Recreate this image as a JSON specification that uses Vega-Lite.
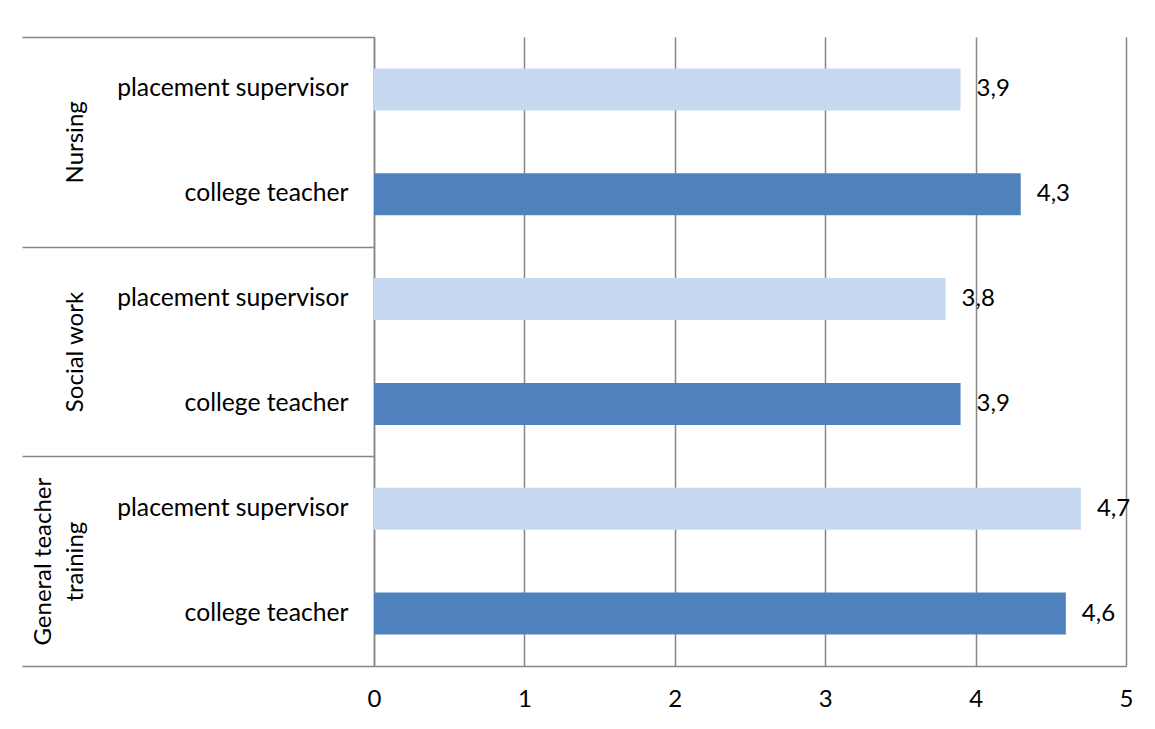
{
  "$schema": "https://vega.github.io/schema/vega-lite/v6.json",
  "width": 752,
  "height": 629,
  "autosize": {"type": "none"},
  "padding": {"left": 374, "top": 37, "right": 29, "bottom": 63},
  "background": "white",
  "config": {
    "view": {"stroke": null},
    "font": "Lato",
    "locale": {"number": {"decimal": ",", "thousands": " ", "grouping": [3], "currency": ["", ""]}},
    "axis": {"labelFont": "Lato", "labelColor": "#000000", "labelFontSize": 24, "labelLimit": 500, "title": null}
  },
  "data": {
    "values": [
      {"group": "Nursing", "role": "placement supervisor", "key": "Nursing|placement supervisor", "value": 3.9},
      {"group": "Nursing", "role": "college teacher", "key": "Nursing|college teacher", "value": 4.3},
      {"group": "Social work", "role": "placement supervisor", "key": "Social work|placement supervisor", "value": 3.8},
      {"group": "Social work", "role": "college teacher", "key": "Social work|college teacher", "value": 3.9},
      {"group": "General teacher training", "role": "placement supervisor", "key": "General teacher training|placement supervisor", "value": 4.7},
      {"group": "General teacher training", "role": "college teacher", "key": "General teacher training|college teacher", "value": 4.6}
    ]
  },
  "layer": [
    {
      "encoding": {
        "y": {
          "field": "key",
          "type": "nominal",
          "sort": null,
          "scale": {"paddingInner": 0.6, "paddingOuter": 0.3},
          "axis": {
            "orient": "left",
            "title": null,
            "labelExpr": "split(datum.value, '|')[1]",
            "ticks": false,
            "domain": true,
            "domainColor": "#868686",
            "domainWidth": 1.5,
            "labelPadding": 26,
            "labelFontSize": 24.7,
            "labelLimit": 500,
            "grid": false
          }
        },
        "x": {
          "field": "value",
          "type": "quantitative",
          "scale": {"domain": [0, 5], "nice": false},
          "axis": {
            "title": null,
            "values": [0, 1, 2, 3, 4, 5],
            "format": "d",
            "grid": true,
            "gridColor": "#868686",
            "gridWidth": 1.5,
            "ticks": false,
            "domain": true,
            "domainColor": "#868686",
            "domainWidth": 1.5,
            "labelPadding": 21,
            "labelFlush": false,
            "labelFontSize": 24
          }
        }
      },
      "layer": [
        {
          "mark": {"type": "bar"},
          "encoding": {
            "color": {
              "field": "role",
              "type": "nominal",
              "scale": {"domain": ["placement supervisor", "college teacher"], "range": ["#C6D9F1", "#4F81BD"]},
              "legend": null
            }
          }
        },
        {
          "mark": {"type": "text", "align": "left", "baseline": "middle", "dx": 16, "fontSize": 24, "font": "Lato", "color": "#000000"},
          "encoding": {
            "text": {"field": "value", "type": "quantitative", "format": ".1f"}
          }
        }
      ]
    },
    {
      "mark": {"type": "point", "opacity": 0},
      "encoding": {
        "x": {"field": "value", "type": "quantitative"},
        "y": {
          "field": "group",
          "type": "nominal",
          "sort": null,
          "scale": {"paddingInner": 0, "paddingOuter": 0},
          "axis": {
            "orient": "left",
            "title": null,
            "domain": false,
            "ticks": true,
            "tickSize": 352,
            "tickColor": "#868686",
            "tickWidth": 1.5,
            "tickBand": "extent",
            "grid": false,
            "labelAngle": -90,
            "labelAlign": "center",
            "labelBaseline": "bottom",
            "labelPadding": {"condition": {"test": "datum.value == 'General teacher training'", "value": -33}, "value": -65},
            "labelLineHeight": 32,
            "labelFontSize": 24,
            "labelLimit": 500,
            "labelExpr": "datum.value == 'General teacher training' ? ['General teacher', 'training'] : datum.value"
          }
        }
      }
    }
  ],
  "resolve": {"scale": {"y": "independent"}, "axis": {"y": "independent"}}
}
